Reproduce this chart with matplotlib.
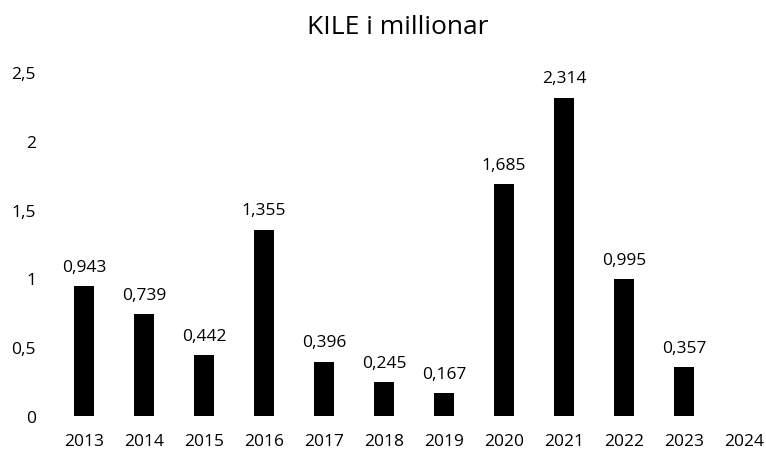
import matplotlib
matplotlib.use("Agg")
import matplotlib.pyplot as plt
import numpy as np

years = ["2013", "2014", "2015", "2016", "2017", "2018", "2019", "2020",
         "2021", "2022", "2023", "2024"]
kile = [0.943, 0.739, 0.442, 1.355, 0.396, 0.245, 0.167, 1.685,
        2.314, 0.995, 0.357, np.nan]
yticks = [0, 0.5, 1, 1.5, 2, 2.5]

plt.rcParams["font.family"] = ["Open Sans", "DejaVu Sans"]

W, H = 766, 452
fig = plt.figure(figsize=(W / 100, H / 100), dpi=100)
ax = fig.add_axes([54 / W, 35 / H, 712 / W, 344 / H])

x = np.arange(len(years))
vals = np.array(kile, dtype=float)
ax.bar(x, np.nan_to_num(vals), width=0.33, color="black")

for xi, v in zip(x, vals):
    if np.isnan(v):
        continue
    ax.annotate(f"{v:.3f}".replace(".", ","), (xi, v), xytext=(0, 8),
                textcoords="offset points", ha="center", va="bottom",
                fontsize=12.5, color="#000000")

ax.set_xlim(-0.5, 11.5 - 8 / 60)
ax.set_ylim(0, 2.5)
ax.set_xticks(x)
ax.set_xticklabels(years)
ax.set_yticks(yticks)
ax.set_yticklabels([f"{t:g}".replace(".", ",") for t in yticks])
ax.tick_params(length=0, labelsize=12.5, colors="black")
ax.tick_params(axis="y", pad=13)
ax.tick_params(axis="x", pad=12.5)
for s in ax.spines.values():
    s.set_visible(False)

fig.text(398 / W, 1 - 28 / H, "KILE i millionar", ha="center", va="center",
         fontsize=19, color="black")

fig.savefig("out.png", dpi=100)
